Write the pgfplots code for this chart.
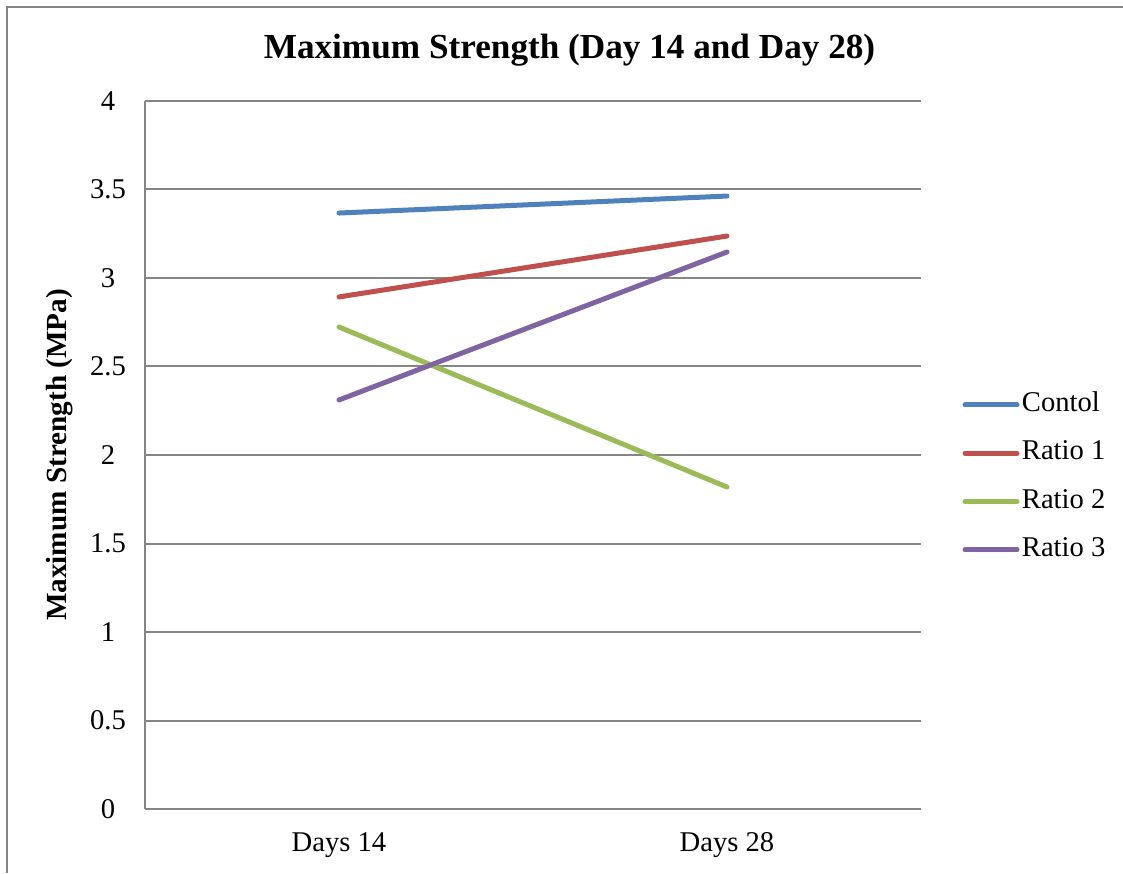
\documentclass[border=0pt]{standalone}
\usepackage{pgfplots}
\pgfplotsset{compat=1.18}
\usepackage{fontspec}
\setmainfont{Liberation Serif}

\definecolor{frameGray}{HTML}{868686}
\definecolor{sBlue}{HTML}{4F81BD}
\definecolor{sRed}{HTML}{C0504D}
\definecolor{sGreen}{HTML}{9BBB59}
\definecolor{sPurple}{HTML}{8064A2}

\begin{document}
\begin{tikzpicture}
% canvas: 1 px = 0.5pt
\path[use as bounding box] (0pt,0pt) rectangle (561.5pt,436.5pt);
% chart frame (left and top edges)
\draw[frameGray, line width=1pt] (3.5pt,0pt) -- (3.5pt,433pt) -- (561.5pt,433pt);
% title
\node[font=\fontsize{17.6}{21}\selectfont\bfseries] at (284.75pt,411.5pt) {Maximum Strength (Day 14 and Day 28)};

\begin{axis}[
  at={(72.5pt,32pt)}, anchor=south west,
  scale only axis, width=388pt, height=354pt,
  xmin=-0.5, xmax=1.5, ymin=0, ymax=4,
  xtick={0,1}, xticklabels={Days 14, Days 28},
  ytick={0,0.5,...,4},
  yticklabels={0,0.5,1,1.5,2,2.5,3,3.5,4},
  major tick length=0pt,
  axis x line*=bottom, axis y line*=left,
  axis line style={-, frameGray, line width=1pt},
  ymajorgrids, grid style={frameGray, line width=1pt},
  tick label style={font=\fontsize{14.3}{17}\selectfont},
  yticklabel style={anchor=center, xshift=-18.5pt},
  xticklabel style={anchor=center, yshift=-18pt},
  /pgf/number format/assume math mode=true,
  ylabel={Maximum Strength (MPa)},
  ylabel style={font=\fontsize{14.6}{17}\selectfont\bfseries, at={(axis description cs:-0.1095,0.5)}, anchor=center, rotate=0},
  legend style={draw=none, fill=none, at={(axis description cs:1.053,0.4683)}, anchor=west,
    font=\fontsize{14.3}{17}\selectfont, inner sep=0pt, row sep=8.25pt, column sep=0pt,
    nodes={inner sep=1.2pt, text height=10pt, text depth=3.5pt}},
  legend cell align=left,
  legend image code/.code={\draw[#1, line width=2.5pt, line cap=round] (0pt,0pt) -- (26pt,0pt);},
  every axis plot/.append style={line width=2.5pt, line cap=round},
  clip=false,
]
\addplot[sBlue] coordinates {(0,3.367) (1,3.463)};
\addlegendentry{Contol}
\addplot[sRed] coordinates {(0,2.893) (1,3.237)};
\addlegendentry{Ratio 1}
\addplot[sGreen] coordinates {(0,2.723) (1,1.819)};
\addlegendentry{Ratio 2}
\addplot[sPurple] coordinates {(0,2.311) (1,3.147)};
\addlegendentry{Ratio 3}
\end{axis}
\end{tikzpicture}
\end{document}
